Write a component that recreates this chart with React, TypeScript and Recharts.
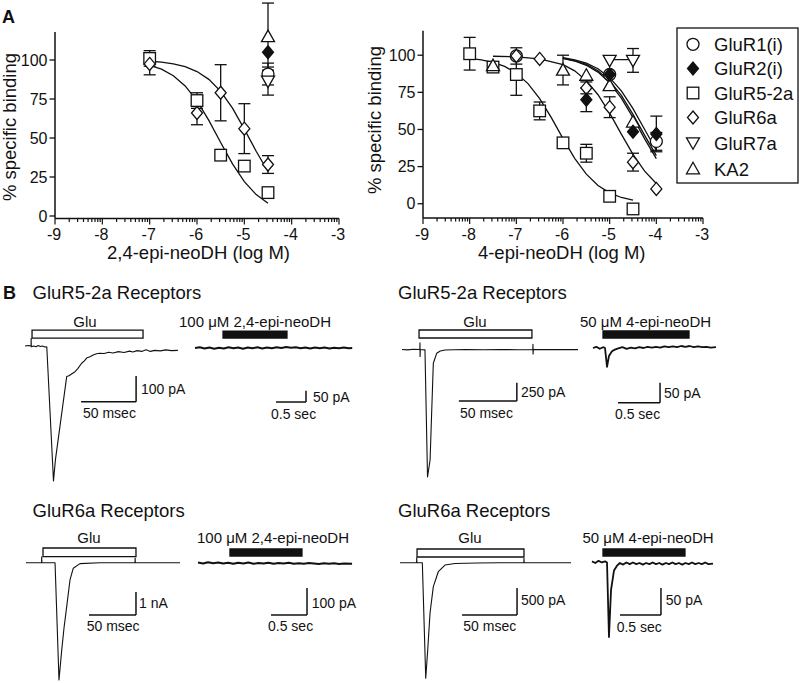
import React from 'react';
import {
  ScatterChart, Scatter, XAxis, YAxis, ErrorBar, LineChart, Line,
  ReferenceArea, ReferenceLine,
} from 'recharts';

const FONT = '"Liberation Sans", Arial, Helvetica, sans-serif';
const INK = '#111';
const TICK_FS = 16;

// ---------------- Panel A : binding data ----------------
const xMajorTicks = [-9, -8, -7, -6, -5, -4, -3];
const yTicks = [0, 25, 50, 75, 100];
const seriesNames = ['GluR1(i)', 'GluR2(i)', 'GluR5-2a', 'GluR6a', 'GluR7a', 'KA2'];
const seriesKinds = ['circle', 'filledDiamond', 'square', 'diamond', 'down', 'up'];

type Pt = { x: number; y: number; e?: number };

// left: 2,4-epi-neoDH
const L_GluR1: Pt[] = [{ x: -4.5, y: 91, e: 7 }];
const L_GluR2: Pt[] = [{ x: -4.5, y: 105 }];
const L_GluR5: Pt[] = [
  { x: -7, y: 101, e: 5 }, { x: -6, y: 74, e: 5 }, { x: -5.5, y: 39 },
  { x: -5, y: 32 }, { x: -4.5, y: 15 },
];
const L_GluR6: Pt[] = [
  { x: -7, y: 97.5, e: 7 }, { x: -6, y: 66, e: 7.5 }, { x: -5.5, y: 79, e: 18 },
  { x: -5, y: 56, e: 16 }, { x: -4.5, y: 33, e: 5.7 },
];
const L_GluR7: Pt[] = [{ x: -4.5, y: 86.5, e: 9 }];
const L_KA2: Pt[] = [{ x: -4.5, y: 115, e: 21.5 }];

// fitted curves
const L_fitGluR5: Pt[] = [
  { x: -7, y: 96.6 }, { x: -6.75, y: 94.1 }, { x: -6.5, y: 89.9 }, { x: -6.25, y: 83.4 },
  { x: -6, y: 73.8 }, { x: -5.75, y: 61.3 }, { x: -5.5, y: 47.1 }, { x: -5.25, y: 33.4 },
  { x: -5, y: 22 }, { x: -4.75, y: 13.7 }, { x: -4.5, y: 8.2 },
];
const L_fitGluR6: Pt[] = [
  { x: -7, y: 99.2 }, { x: -6.75, y: 98.6 }, { x: -6.5, y: 97.5 }, { x: -6.25, y: 95.7 },
  { x: -6, y: 92.6 }, { x: -5.75, y: 87.6 }, { x: -5.5, y: 79.9 }, { x: -5.25, y: 69.1 },
  { x: -5, y: 55.7 }, { x: -4.75, y: 41.5 }, { x: -4.5, y: 28.5 },
];

// right: 4-epi-neoDH
const R_GluR1: Pt[] = [{ x: -7, y: 99.5, e: 5.5 }, { x: -5, y: 87 }, { x: -4, y: 42, e: 6 }];
const R_GluR2: Pt[] = [
  { x: -5.5, y: 70, e: 8 }, { x: -5, y: 87 }, { x: -4.5, y: 48.5 }, { x: -4, y: 47, e: 12 },
];
const R_GluR5: Pt[] = [
  { x: -8, y: 101, e: 11 }, { x: -7.5, y: 92, e: 3 }, { x: -7, y: 87, e: 14 },
  { x: -6.5, y: 62.5, e: 6 }, { x: -6, y: 41 }, { x: -5.5, y: 34, e: 6 },
  { x: -5, y: 5 }, { x: -4.5, y: -3.5, e: 3 },
];
const R_GluR6: Pt[] = [
  { x: -7, y: 99.5 }, { x: -6.5, y: 97.5 }, { x: -5.5, y: 78, e: 4 },
  { x: -5, y: 65, e: 7 }, { x: -4.5, y: 28, e: 6 }, { x: -4, y: 10 },
];
const R_GluR7: Pt[] = [{ x: -5, y: 96.5 }, { x: -4.5, y: 96.5, e: 8 }];
const R_KA2: Pt[] = [
  { x: -7.5, y: 93 }, { x: -6, y: 90, e: 10 }, { x: -5.5, y: 86.5 },
  { x: -5, y: 79.5 }, { x: -4.5, y: 55 },
];

const R_fitGluR5: Pt[] = [
  { x: -8, y: 97.8 }, { x: -7.75, y: 96.8 }, { x: -7.5, y: 95.2 }, { x: -7.25, y: 92.5 },
  { x: -7, y: 87.9 }, { x: -6.75, y: 80.9 }, { x: -6.5, y: 70.8 }, { x: -6.25, y: 58 },
  { x: -6, y: 43.8 }, { x: -5.75, y: 30.6 }, { x: -5.5, y: 19.9 }, { x: -5.25, y: 12.3 },
  { x: -5, y: 7.3 }, { x: -4.75, y: 4.2 }, { x: -4.5, y: 2.4 },
];
const R_fitGluR6: Pt[] = [
  { x: -7.5, y: 99.3 }, { x: -7, y: 98.9 }, { x: -6.5, y: 97.6 }, { x: -6, y: 93.6 },
  { x: -5.75, y: 89.5 }, { x: -5.5, y: 82.9 }, { x: -5.25, y: 73.4 }, { x: -5, y: 61 },
  { x: -4.75, y: 46.9 }, { x: -4.5, y: 33.2 }, { x: -4.25, y: 21.9 }, { x: -4, y: 13.6 },
];
const R_fitGluR1: Pt[] = [
  { x: -6, y: 98.3 }, { x: -5.75, y: 96.9 }, { x: -5.5, y: 94.7 }, { x: -5.25, y: 90.9 },
  { x: -5, y: 84.9 }, { x: -4.75, y: 76 }, { x: -4.5, y: 64 }, { x: -4.25, y: 50 }, { x: -4, y: 36 },
];
const R_fitGluR2: Pt[] = [
  { x: -6, y: 97.9 }, { x: -5.75, y: 96.4 }, { x: -5.5, y: 93.8 }, { x: -5.25, y: 89.5 },
  { x: -5, y: 82.7 }, { x: -4.75, y: 72.9 }, { x: -4.5, y: 60.2 }, { x: -4.25, y: 46 }, { x: -4, y: 32.4 },
];
const R_fitKA2: Pt[] = [
  { x: -6, y: 97.8 }, { x: -5.75, y: 96.1 }, { x: -5.5, y: 93.2 }, { x: -5.25, y: 88.6 },
  { x: -5, y: 81.4 }, { x: -4.75, y: 71.1 }, { x: -4.5, y: 58 }, { x: -4.25, y: 43.7 }, { x: -4, y: 30.4 },
];
const R_fitGluR7: Pt[] = [{ x: -5, y: 97 }, { x: -4.5, y: 97 }];

// ---------------- Panel B : current traces ----------------
// [time, current]
const trGluR5_Glu_a: number[][] = [
  [0, 0], [3, 2], [5.5, 0], [5.6, 30], [5.7, -3], [8, 0], [10, -3], [12, 2], [14, -2], [16, 0],
  [18, -4], [19.8, -3], [25.9, -525], [27.6, -445], [37.9, -119], [40, -116], [42, -110],
  [45.5, -100], [48, -88], [51.5, -67], [54, -58], [56, -47], [59, -42], [62, -35], [65, -30],
  [68, -28], [72, -29], [76, -24], [80, -27], [85, -22], [90, -25], [95, -20], [98, -23],
  [102, -18], [106, -21], [110, -15], [114, -21], [118, -17], [123, -19], [128, -15], [133, -18], [139, -17],
];
const trGluR5_24epi: number[][] = [
  [0, 0], [0.08, 3], [0.16, -2], [0.24, 2], [0.32, -3], [0.4, 1], [0.48, -2], [0.56, 3], [0.64, -1],
  [0.72, 2], [0.8, -3], [0.88, 2], [0.96, -1], [1.04, 3], [1.12, -2], [1.2, 2], [1.28, -1], [1.36, 3],
  [1.44, 0], [1.52, 4], [1.6, 1], [1.68, 3], [1.76, -1], [1.84, 2], [1.92, -2], [2.0, 2], [2.08, -1],
  [2.16, 2], [2.24, -2], [2.32, 1], [2.4, -1], [2.48, 2], [2.56, -1], [2.62, 0],
];
const trGluR5_Glu_b: number[][] = [
  [0, 0], [5, -5], [10, 3], [15.4, 0], [15.5, 90], [15.6, -95], [15.8, 0], [19.8, -5], [22, -1740],
  [24.2, -1507], [27, -188], [29.9, -52], [33, -20], [37.1, -7], [45, -4], [55, 0], [70, -3],
  [85, 0], [100, -3], [112.8, 0], [112.9, 70], [113, -60], [113.2, 0], [125, -2], [140, 1], [151.7, -2],
];
const trGluR5_4epi: number[][] = [
  [0, 0], [0.04, 3], [0.08, -2], [0.12, 2], [0.143, 0], [0.167, -47], [0.19, -20], [0.226, -8],
  [0.26, -4], [0.3, -1], [0.35, 2], [0.4, -2], [0.45, 1], [0.5, -1], [0.55, 2], [0.6, 0], [0.65, 3],
  [0.7, 1], [0.75, 3], [0.8, 1], [0.85, 4], [0.9, 2], [0.95, 4], [1.0, 2], [1.05, 5], [1.1, 3],
  [1.15, 5], [1.2, 2], [1.25, 4], [1.3, 2], [1.35, 3], [1.4, 1], [1.464, 2],
];
const trGluR6_Glu_a: number[][] = [
  [0, 0], [16.6, 0], [16.7, 0.26], [16.9, 0], [30.9, 0], [35.1, -5.1], [38, -3.8], [40.4, -2.85],
  [43.3, -1.91], [46.8, -0.75], [50.3, -0.24], [57.4, -0.04], [78.7, 0], [116, 0], [116.1, 0.2],
  [116.3, 0], [163.8, 0],
];
const trGluR6_24epi: number[][] = [
  [0, 2], [0.07, -2], [0.14, 3], [0.21, -1], [0.28, 2], [0.35, -2], [0.42, 1], [0.49, -3], [0.56, 1],
  [0.63, -2], [0.7, 2], [0.77, -3], [0.84, 0], [0.91, -2], [0.98, 1], [1.05, -3], [1.12, 0],
  [1.19, -2], [1.26, 1], [1.33, -3], [1.4, -1], [1.47, -3], [1.54, 0], [1.61, -2], [1.68, -4],
  [1.75, -1], [1.82, -3], [1.89, -1], [1.96, -4], [2.03, -2], [2.14, -3],
];
const trGluR6_Glu_b: number[][] = [
  [0, 0], [15.1, 0], [15.2, 90], [15.4, 0], [20.3, 0], [23.4, -2141], [25.2, -1617], [27.3, -931],
  [30.3, -444], [34.8, -167], [40.9, -43], [50, -15], [70, -5], [90, 0], [112.6, 0], [112.7, 80],
  [112.9, 0], [155.5, 0],
];
const trGluR6_4epi: number[][] = [
  [0, 3], [0.04, 0], [0.08, 4], [0.12, 1], [0.16, 3], [0.183, 1], [0.207, -137], [0.232, -50],
  [0.268, -14], [0.305, -5], [0.34, 0], [0.38, -3], [0.42, 1], [0.46, -2], [0.5, 1], [0.54, -2],
  [0.58, 0], [0.62, -3], [0.66, 0], [0.7, -2], [0.74, 1], [0.78, -2], [0.82, 0], [0.86, -3],
  [0.9, 0], [0.94, -2], [0.98, 1], [1.02, -2], [1.06, 0], [1.1, -3], [1.14, 0], [1.18, -2],
  [1.22, 1], [1.26, -2], [1.3, 0], [1.34, -2], [1.38, 1], [1.42, -2], [1.476, -1],
];

// application intervals [start, end]
const gluOn_a = [6.4, 107.3];
const drug_24epi_R5 = [0.467, 1.533];
const gluOn_b = [14.7, 112];
const drug_4epi_R5 = [0.119, 1.143];
const gluOn_c = [18.1, 117];
const drug_24epi_R6 = [0.444, 1.444];
const gluOn_d = [15.5, 112.7];
const drug_4epi_R6 = [0.134, 1.134];

// ---------------- helpers ----------------
function Sym({ kind, cx, cy }: { kind: string; cx: number; cy: number }) {
  const sw = 1.3;
  switch (kind) {
    case 'circle':
      return <circle cx={cx} cy={cy} r={6} fill="#fff" stroke={INK} strokeWidth={sw} />;
    case 'filledDiamond':
      return <polygon points={`${cx},${cy - 6.5} ${cx + 5.5},${cy} ${cx},${cy + 6.5} ${cx - 5.5},${cy}`} fill={INK} stroke={INK} strokeWidth={sw} />;
    case 'square':
      return <rect x={cx - 5.8} y={cy - 5.8} width={11.6} height={11.6} fill="#fff" stroke={INK} strokeWidth={sw} />;
    case 'diamond':
      return <polygon points={`${cx},${cy - 6.5} ${cx + 5.5},${cy} ${cx},${cy + 6.5} ${cx - 5.5},${cy}`} fill="#fff" stroke={INK} strokeWidth={sw} />;
    case 'down':
      return <polygon points={`${cx - 6.5},${cy - 5} ${cx + 6.5},${cy - 5} ${cx},${cy + 6.5}`} fill="#fff" stroke={INK} strokeWidth={sw} />;
    case 'up':
      return <polygon points={`${cx},${cy - 6.5} ${cx + 6.5},${cy + 5} ${cx - 6.5},${cy + 5}`} fill="#fff" stroke={INK} strokeWidth={sw} />;
    default:
      return <g />;
  }
}

const Empty = () => <g />;

const minorMult = [2, 3, 4, 5, 6, 7, 8, 9];
const xTickValues = xMajorTicks.flatMap((d, i) =>
  i < xMajorTicks.length - 1 ? [d, ...minorMult.map((k) => d + Math.log10(k))] : [d]
);

const LogTick = (props: any) => {
  const { x, y, payload } = props;
  const v = payload.value;
  const major = Math.abs(v - Math.round(v)) < 1e-9;
  return (
    <g>
      <line x1={x} x2={x} y1={y} y2={y + (major ? 6 : 3.5)} stroke={INK} strokeWidth={1.2} />
      {major && (
        <text x={x - 1} y={y + 21.5} textAnchor="middle" fontSize={TICK_FS} fontFamily={FONT} fill={INK}>
          {v}
        </text>
      )}
    </g>
  );
};

type Series = { kind: string; data: Pt[] };

function BindingPlot(props: {
  w: number; h: number; margin: any; yDomain: number[]; yAxisTop?: number;
  series: Series[]; curves: Pt[][];
}) {
  const { w, h, margin, yDomain, yAxisTop, series, curves } = props;
  return (
    <ScatterChart width={w} height={h} margin={margin}>
      <XAxis type="number" dataKey="x" domain={[-9, -3]} ticks={xTickValues} interval={0}
        tick={(p: any) => <LogTick {...p} />} tickLine={false} tickSize={0} tickMargin={0}
        height={40} axisLine={{ stroke: INK, strokeWidth: 1.5 }} allowDataOverflow />
      <YAxis type="number" dataKey="y" domain={yDomain} ticks={yTicks} interval={0} width={50}
        tickSize={5.5} tickMargin={2}
        tick={{ fill: INK, fontSize: TICK_FS, fontFamily: FONT }}
        tickLine={{ stroke: INK, strokeWidth: 1.3 }}
        axisLine={yAxisTop == null ? { stroke: INK, strokeWidth: 1.5 } : false}
        allowDataOverflow />
      {yAxisTop != null && (
        <ReferenceLine segment={[{ x: -9, y: yDomain[0] }, { x: -9, y: yAxisTop }]}
          stroke={INK} strokeWidth={1.5} ifOverflow="visible" />
      )}
      {curves.map((c, i) => (
        <Scatter key={'c' + i} data={c} line={{ stroke: INK, strokeWidth: 1.3 }} shape={Empty}
          isAnimationActive={false} legendType="none" />
      ))}
      {series.map((s, i) => {
        const ed = s.data.filter((p) => p.e);
        if (!ed.length) return null;
        return (
          <Scatter key={'e' + i} data={ed} shape={Empty} isAnimationActive={false} legendType="none">
            <ErrorBar dataKey="e" direction="y" width={6} stroke={INK} strokeWidth={1.3} />
          </Scatter>
        );
      })}
      {series.map((s, i) => (
        <Scatter key={'m' + i} data={s.data} isAnimationActive={false} legendType="none"
          shape={(p: any) => <Sym kind={s.kind} cx={p.cx} cy={p.cy} />} />
      ))}
    </ScatterChart>
  );
}

type Box = { left: number; top: number; w: number; h: number };
function TraceChart(props: {
  box: Box; org: { x: number; y: number }; sc: { x: number; y: number };
  data: number[][]; bar: number[]; barY: number[]; filled: boolean;
  scale: { x0: number; y0: number; lx: number; ly: number }; sw: number;
}) {
  const { box, org, sc, data, bar, barY, filled, scale, sw } = props;
  const xd = [(box.left - org.x) / sc.x, (box.left + box.w - org.x) / sc.x];
  const yd = [(org.y - (box.top + box.h)) / sc.y, (org.y - box.top) / sc.y];
  const rows = data.map(([t, v]) => ({ t, v }));
  return (
    <div style={{ position: 'absolute', left: box.left, top: box.top }}>
      <LineChart width={box.w} height={box.h} data={rows} margin={{ top: 0, right: 0, bottom: 0, left: 0 }}>
        <XAxis type="number" dataKey="t" domain={xd} hide allowDataOverflow />
        <YAxis type="number" domain={yd} hide allowDataOverflow />
        <ReferenceArea x1={bar[0]} x2={bar[1]} y1={barY[0]} y2={barY[1]}
          fill={filled ? INK : '#fff'} fillOpacity={1} stroke={INK} strokeWidth={1.3} ifOverflow="visible" />
        <ReferenceLine segment={[{ x: scale.x0, y: scale.y0 }, { x: scale.x0 + scale.lx, y: scale.y0 }]}
          stroke={INK} strokeWidth={1.5} ifOverflow="visible" />
        <ReferenceLine segment={[{ x: scale.x0 + scale.lx, y: scale.y0 }, { x: scale.x0 + scale.lx, y: scale.y0 + scale.ly }]}
          stroke={INK} strokeWidth={1.5} ifOverflow="visible" />
        <Line type="linear" dataKey="v" dot={false} stroke={INK} strokeWidth={sw}
          isAnimationActive={false} strokeLinejoin="round" />
      </LineChart>
    </div>
  );
}

function Txt({ x, y, s, size = 14, anchor = 'start', bold = false, rot }: any) {
  return (
    <text x={x} y={y} fontSize={size} fontFamily={FONT} fill={INK} textAnchor={anchor}
      fontWeight={bold ? 'bold' : 'normal'} transform={rot ? `rotate(${rot} ${x} ${y})` : undefined}>
      {s}
    </text>
  );
}

const legendRows = [44.3, 68.6, 93, 117.5, 142.8, 168.8];

export default function App() {
  const leftSeries: Series[] = [L_GluR1, L_GluR2, L_GluR5, L_GluR6, L_GluR7, L_KA2].map((d, i) => ({ kind: seriesKinds[i], data: d }));
  const rightSeries: Series[] = [R_GluR1, R_GluR5, R_GluR6, R_GluR7, R_KA2, R_GluR2].map((d, i) => ({
    kind: ['circle', 'square', 'diamond', 'down', 'up', 'filledDiamond'][i], data: d,
  }));
  return (
    <div style={{ position: 'absolute', left: 0, top: 0, width: 800, height: 683, background: '#fff', overflow: 'hidden' }}>
      <div style={{ position: 'absolute', left: 0, top: 0 }}>
        <BindingPlot w={345} h={262} margin={{ top: 2.28, left: 5, right: 6, bottom: 3.5 }}
          yDomain={[-1.6, 137]} yAxisTop={118} series={leftSeries} curves={[L_fitGluR5, L_fitGluR6]} />
      </div>
      <div style={{ position: 'absolute', left: 345, top: 0 }}>
        <BindingPlot w={365} h={262} margin={{ top: 30.7, left: 28, right: 7, bottom: 4 }}
          yDomain={[-9.6, 116.5]} series={rightSeries}
          curves={[R_fitGluR5, R_fitGluR6, R_fitGluR1, R_fitGluR2, R_fitKA2, R_fitGluR7]} />
      </div>

      <TraceChart box={{ left: 18, top: 322, w: 172, h: 170 }} org={{ x: 25, y: 346 }} sc={{ x: 1.1, y: 0.257 }}
        data={trGluR5_Glu_a} bar={gluOn_a} barY={[31, 62]} filled={false}
        scale={{ x0: 51, y0: -217, lx: 50, ly: 100 }} sw={1.1} />
      <TraceChart box={{ left: 190, top: 322, w: 170, h: 90 }} org={{ x: 195, y: 348 }} sc={{ x: 60, y: 0.226 }}
        data={trGluR5_24epi} bar={drug_24epi_R5} barY={[44, 75]} filled={true}
        scale={{ x0: 1.35, y0: -239, lx: 0.5, ly: 50 }} sw={2} />
      <TraceChart box={{ left: 398, top: 322, w: 185, h: 162 }} org={{ x: 402, y: 349.5 }} sc={{ x: 1.16, y: 0.0733 }}
        data={trGluR5_Glu_b} bar={gluOn_b} barY={[157, 266]} filled={false}
        scale={{ x0: 49, y0: -703, lx: 50, ly: 250 }} sw={1.1} />
      <TraceChart box={{ left: 588, top: 322, w: 135, h: 90 }} org={{ x: 593, y: 348 }} sc={{ x: 84, y: 0.4 }}
        data={trGluR5_4epi} bar={drug_4epi_R5} barY={[25, 42.5]} filled={true}
        scale={{ x0: 0.298, y0: -136.75, lx: 0.5, ly: 50 }} sw={1.8} />
      <TraceChart box={{ left: 20, top: 540, w: 170, h: 143 }} org={{ x: 26, y: 562.7 }} sc={{ x: 0.94, y: 23 }}
        data={trGluR6_Glu_a} bar={gluOn_c} barY={[0.26, 0.64]} filled={false}
        scale={{ x0: 67, y0: -2.27, lx: 50, ly: 1 }} sw={1.1} />
      <TraceChart box={{ left: 192, top: 540, w: 168, h: 85 }} org={{ x: 198, y: 563 }} sc={{ x: 72, y: 0.27 }}
        data={trGluR6_24epi} bar={drug_24epi_R6} barY={[25.9, 51.8]} filled={true}
        scale={{ x0: 1.014, y0: -192.6, lx: 0.5, ly: 100 }} sw={2} />
      <TraceChart box={{ left: 396, top: 540, w: 180, h: 143 }} org={{ x: 400, y: 562.7 }} sc={{ x: 1.1, y: 0.054 }}
        data={trGluR6_Glu_b} bar={gluOn_d} barY={[106, 254]} filled={false}
        scale={{ x0: 56.4, y0: -969, lx: 50, ly: 500 }} sw={1.1} />
      <TraceChart box={{ left: 586, top: 540, w: 135, h: 105 }} org={{ x: 592, y: 563 }} sc={{ x: 82, y: 0.54 }}
        data={trGluR6_4epi} bar={drug_4epi_R6} barY={[13, 25.9]} filled={true}
        scale={{ x0: 0.341, y0: -96.3, lx: 0.5, ly: 50 }} sw={1.8} />

      <svg width={800} height={683} style={{ position: 'absolute', left: 0, top: 0, pointerEvents: 'none' }}>
        <Txt x={2} y={22.5} s="A" size={18} bold />
        <Txt x={3} y={298.5} s="B" size={18} bold />
        <Txt x={15.5} y={127} s="% specific binding" size={18.5} anchor="middle" rot={-90} />
        <Txt x={381} y={120} s="% specific binding" size={18.5} anchor="middle" rot={-90} />
        <Txt x={198.5} y={258.5} s="2,4-epi-neoDH (log M)" size={18.5} anchor="middle" />
        <Txt x={561.7} y={258.5} s="4-epi-neoDH (log M)" size={18.5} anchor="middle" />

        <rect x={677} y={28} width={121} height={155} fill="none" stroke={INK} strokeWidth={1.3} />
        {seriesNames.map((n, i) => (
          <g key={n}>
            <Sym kind={seriesKinds[i]} cx={693} cy={legendRows[i]} />
            <Txt x={714} y={legendRows[i] + 6.7} s={n} size={18.5} />
          </g>
        ))}

        <Txt x={32.5} y={298.5} s="GluR5-2a Receptors" size={18.5} />
        <Txt x={398} y={298.5} s="GluR5-2a Receptors" size={18.5} />
        <Txt x={32.5} y={516.7} s="GluR6a Receptors" size={18.5} />
        <Txt x={398} y={516.7} s="GluR6a Receptors" size={18.5} />

        <Txt x={85} y={327.3} s="Glu" size={15} anchor="middle" />
        <Txt x={255} y={327.3} s="100 μM 2,4-epi-neoDH" size={15} anchor="middle" />
        <Txt x={475} y={327.3} s="Glu" size={15} anchor="middle" />
        <Txt x={645.5} y={327.3} s="50 μM 4-epi-neoDH" size={15} anchor="middle" />
        <Txt x={89} y={543.3} s="Glu" size={15} anchor="middle" />
        <Txt x={273} y={543.3} s="100 μM 2,4-epi-neoDH" size={15} anchor="middle" />
        <Txt x={470} y={543.3} s="Glu" size={15} anchor="middle" />
        <Txt x={648} y={543.3} s="50 μM 4-epi-neoDH" size={15} anchor="middle" />

        <Txt x={141} y={394} s="100 pA" />
        <Txt x={83} y={418.3} s="50 msec" />
        <Txt x={313} y={401.7} s="50 pA" />
        <Txt x={271} y={419} s="0.5 sec" />
        <Txt x={521} y={397} s="250 pA" />
        <Txt x={460} y={418.3} s="50 msec" />
        <Txt x={664} y={398} s="50 pA" />
        <Txt x={615} y={419} s="0.5 sec" />
        <Txt x={139} y={608.3} s="1 nA" />
        <Txt x={86.7} y={630.7} s="50 msec" />
        <Txt x={311.7} y={608} s="100 pA" />
        <Txt x={268} y={631} s="0.5 sec" />
        <Txt x={521} y={605} s="500 pA" />
        <Txt x={463.3} y={630.7} s="50 msec" />
        <Txt x={665.7} y={605} s="50 pA" />
        <Txt x={616.7} y={631.7} s="0.5 sec" />
      </svg>
    </div>
  );
}
